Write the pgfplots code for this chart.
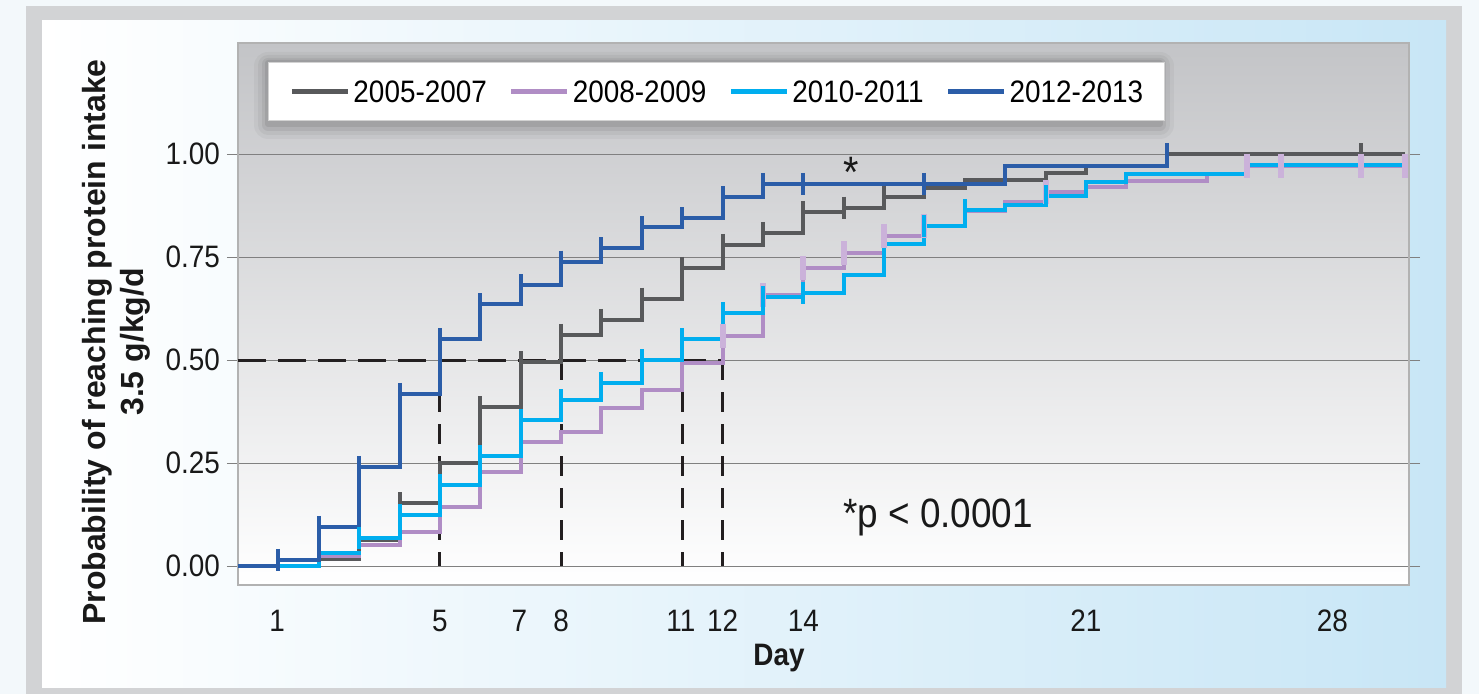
\documentclass[border=0pt]{standalone}
\usepackage{pgfplots}
\pgfplotsset{compat=1.18}
\usepackage{fontspec}
\setmainfont{Liberation Sans}
\newfontfamily\condfont[FakeStretch=0.9]{Liberation Sans}

\definecolor{cgray}{HTML}{58595B}
\definecolor{cpurple}{HTML}{B08DC5}
\definecolor{cpurplelt}{HTML}{CBB2DA}
\definecolor{ccyan}{HTML}{00AEEF}
\definecolor{cblue}{HTML}{2B5DA8}
\definecolor{plottop}{HTML}{C3C4C7}
\definecolor{framegray}{HTML}{D2D3D5}
\definecolor{panelblue}{HTML}{C8E6F6}
\definecolor{outerbg}{HTML}{F3F8FB}
\definecolor{dashc}{HTML}{231F20}

\pgfplotstableread{
x y
0 0
2 0.017
3 0.063
4 0.153
5 0.25
6 0.386
7 0.495
8 0.561
9 0.598
10 0.649
11 0.724
12 0.780
13 0.809
14 0.860
15 0.870
16 0.897
17 0.918
18 0.938
20 0.955
21 0.972
23 1.0
28.9 1.0
}\grayA

\pgfplotstableread{
x y
0 0
2 0.025
3 0.05
4 0.082
5 0.143
6 0.228
7 0.30
8 0.325
9 0.384
10 0.427
11 0.493
12 0.559
13 0.658
14 0.724
15 0.760
16 0.802
17 0.826
18 0.862
19 0.884
20 0.908
21 0.921
22 0.935
24 0.952
25 0.972
28.9 0.972
}\purpleA

\pgfplotstableread{
x y
0 0
2 0.032
3 0.068
4 0.124
5 0.197
6 0.267
7 0.355
8 0.403
9 0.445
10 0.500
11 0.551
12 0.614
13 0.653
14 0.663
15 0.707
16 0.782
17 0.826
18 0.865
19 0.877
20 0.898
21 0.933
22 0.952
25 0.974
28.9 0.974
}\cyanA

\pgfplotstableread{
x y
0 0
1 0.015
2 0.095
3 0.241
4 0.418
5 0.551
6 0.636
7 0.682
8 0.739
9 0.772
10 0.823
11 0.845
12 0.896
13 0.928
19 0.972
23 1.0
}\blueA

\begin{document}
\begin{tikzpicture}
\fill[outerbg] (0,0) rectangle (739.5pt,347pt);
\fill[framegray] (13pt,0pt) rectangle (731pt,344pt);
\shade[left color=white, middle color=white, right color=panelblue] (21pt,3pt) rectangle (723pt,336.5pt);

\begin{axis}[
  at={(119pt,54.5pt)}, anchor=south west,
  scale only axis, width=585.5pt, height=271pt,
  xmin=0, xmax=29, ymin=-0.046, ymax=1.27,
  axis background/.style={top color=plottop, bottom color=white},
  axis line style={draw=gray!60, line width=0.6pt},
  ytick={0,0.25,0.5,0.75,1},
  yticklabels={0.00,0.25,0.50,0.75,1.00},
  ymajorgrids, grid style={draw=gray, line width=0.5pt},
  ytick style={draw=gray, line width=0.5pt},
  tick align=outside, major tick length=5.5pt,
  xtick={0.97,5,6.97,8,10.97,12,14,21,27.1},
  xticklabels={1,5,7,8,11,12,14,21,28},
  xtick style={draw=none},
  xticklabel style={yshift=-3.5pt},
  tick label style={font=\condfont\fontsize{15.5}{18}\selectfont, text=black!90},
  legend columns=4,
  legend style={at={(axis description cs:0.0256,0.965)}, anchor=north west,
    draw=gray!35, fill=white, line width=0.5pt, inner xsep=10.5pt, inner ysep=9pt,
    font=\condfont\fontsize{15.5}{18}\selectfont,
    /tikz/every odd column/.append style={column sep=1.5pt},
    /tikz/every even column/.append style={column sep=11pt},
    nodes={inner sep=0pt, text depth=0pt}},
  legend image code/.code={\draw[#1, line width=2.5pt] (0pt,0pt) -- (28pt,0pt);},
]
% soft shadow behind the legend box
\fill[black, opacity=0.035, rounded corners=7pt] ([xshift=-7pt, yshift=-9pt]rel axis cs:0.02562,0.85609) rectangle ([xshift=7pt, yshift=5pt]rel axis cs:0.78736,0.96494);
\fill[black, opacity=0.045, rounded corners=5pt] ([xshift=-5pt, yshift=-7pt]rel axis cs:0.02562,0.85609) rectangle ([xshift=5pt, yshift=3.5pt]rel axis cs:0.78736,0.96494);
\fill[black, opacity=0.06, rounded corners=3pt] ([xshift=-3pt, yshift=-5pt]rel axis cs:0.02562,0.85609) rectangle ([xshift=3pt, yshift=2pt]rel axis cs:0.78736,0.96494);
\fill[black, opacity=0.08, rounded corners=1.5pt] ([xshift=-1.5pt, yshift=-3pt]rel axis cs:0.02562,0.85609) rectangle ([xshift=1.5pt, yshift=1pt]rel axis cs:0.78736,0.96494);

% reference (median) lines
\addplot[dashc, line width=1.5pt, dash pattern=on 14pt off 6pt, forget plot] coordinates {(0,0.5) (12,0.5)};
\addplot[dashc, line width=1.5pt, dash pattern=on 10pt off 6pt, forget plot] coordinates {(5,0.5) (5,0)};
\addplot[dashc, line width=1.5pt, dash pattern=on 10pt off 6pt, forget plot] coordinates {(8,0.5) (8,0)};
\addplot[dashc, line width=1.5pt, dash pattern=on 10pt off 6pt, forget plot] coordinates {(11,0.5) (11,0)};
\addplot[dashc, line width=1.5pt, dash pattern=on 10pt off 6pt, forget plot] coordinates {(12,0.5) (12,0)};

% 2005-2007
\addplot[cgray, line width=2pt, const plot, no marks] table {\grayA};
\addlegendentry{2005-2007}
\addplot[cgray, line width=2pt, only marks, mark=|, mark size=5.5pt, forget plot] coordinates {
 (3,0.063) (4,0.153) (6,0.386) (7,0.495) (8,0.561) (9,0.598) (10,0.649) (11,0.724) (12,0.780) (13,0.809) (14,0.860) (15,0.870) (16,0.897) (27.81,1.0)};

% 2008-2009
\addplot[cpurplelt, line width=3pt, only marks, mark=|, mark size=6pt, forget plot] coordinates {
 (12,0.559) (13,0.658) (14,0.724) (15,0.760) (16,0.802) (17,0.826) (20,0.908) (25,0.972) (25.83,0.972) (27.81,0.972) (28.9,0.972)};
\addplot[cpurple, line width=2pt, const plot, no marks] table {\purpleA};
\addlegendentry{2008-2009}

% 2010-2011
\addplot[ccyan, line width=2pt, const plot, no marks] table {\cyanA};
\addlegendentry{2010-2011}
\addplot[ccyan, line width=2pt, only marks, mark=|, mark size=5.5pt, forget plot] coordinates {
 (3,0.068) (4,0.124) (5,0.197) (6,0.267) (7,0.355) (8,0.403) (9,0.445) (10,0.500) (11,0.551) (12,0.614) (13,0.653) (14,0.663) (17,0.826) (18,0.865) (20,0.898)};

% 2012-2013
\addplot[cblue, line width=2pt, const plot, no marks] table {\blueA};
\addlegendentry{2012-2013}
\addplot[cblue, line width=2pt, only marks, mark=|, mark size=5.5pt, forget plot] coordinates {
 (1,0.015) (2,0.095) (3,0.241) (4,0.418) (5,0.551) (6,0.636) (7,0.682) (8,0.739) (9,0.772) (10,0.823) (11,0.845) (12,0.896) (13,0.928) (14,0.928) (17,0.928) (23,1.0)};

\node[font=\condfont\fontsize{22}{24}\selectfont, text=black!90] at (axis cs:15.18,0.955) {*};
\node[anchor=base west, font=\condfont\fontsize{20.5}{23}\selectfont, text=black!90, inner sep=0pt] at (axis cs:14.98,0.0947) {*p < 0.0001};
\end{axis}

\node[rotate=90, align=center, font=\bfseries\fontsize{16}{19}\selectfont, text=black!90] at (58pt,176pt) {Probability of reaching protein intake\\3.5 g/kg/d};
\node[anchor=base, font=\condfont\bfseries\fontsize{15.5}{17}\selectfont, text=black!90, inner sep=0pt] at (389.5pt,14pt) {Day};

\pgfresetboundingbox
\path[use as bounding box] (0,0) rectangle (739.5pt,347pt);
\end{tikzpicture}
\end{document}
